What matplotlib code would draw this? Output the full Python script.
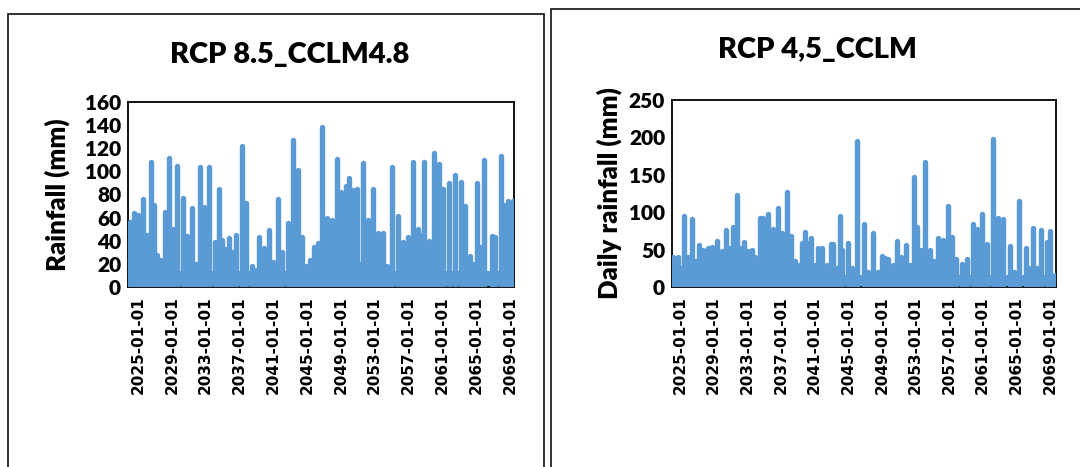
import matplotlib
matplotlib.use("Agg")
import matplotlib.pyplot as plt
from matplotlib.patches import Rectangle

# ---------------- data ----------------
left_title = "RCP 8.5_CCLM4.8"
right_title = "RCP 4,5_CCLM"
left_ylabel = "Rainfall (mm)"
right_ylabel = "Daily rainfall (mm)"

# Left panel: rainfall events (decimal year, mm)
left_years = [2024.05, 2024.53, 2025.00, 2025.59, 2026.10, 2026.54, 2026.89, 2027.25,
              2027.72, 2028.20, 2028.67, 2029.15, 2029.62, 2030.33, 2030.80, 2031.39,
              2031.85, 2032.34, 2032.81, 2033.40, 2034.11, 2034.59, 2034.94, 2035.30,
              2035.77, 2036.20, 2036.60, 2037.31, 2037.78, 2038.49, 2038.85, 2039.32,
              2039.91, 2040.50, 2041.00, 2041.57, 2042.10, 2042.75, 2043.34, 2043.93,
              2044.41, 2044.90, 2045.35, 2045.83, 2046.30, 2046.78, 2047.37, 2047.96,
              2048.55, 2049.02, 2049.62, 2049.97, 2050.44, 2050.92, 2051.30, 2051.63,
              2052.22, 2052.81, 2053.40, 2053.99, 2054.50, 2055.06, 2055.77, 2056.36,
              2056.95, 2057.54, 2058.14, 2058.50, 2058.85, 2059.40, 2060.03, 2060.62,
              2061.09, 2061.80, 2062.51, 2063.22, 2063.70, 2064.29, 2064.70, 2065.12,
              2065.50, 2065.95, 2066.89, 2067.25, 2067.96, 2068.43, 2068.79, 2069.38]
left_rain = [56, 64, 62, 76, 45, 108, 71, 28,
             23, 65, 112, 50, 105, 77, 44, 68,
             20, 104, 69, 104, 39, 85, 41, 33,
             42, 30, 45, 122, 73, 18, 15, 43,
             34, 49, 22, 76, 30, 55, 127, 101,
             43, 18, 23, 35, 38, 138, 60, 58,
             111, 82, 87, 94, 84, 85, 20, 107,
             58, 85, 47, 47, 18, 104, 61, 39,
             43, 108, 50, 45, 108, 40, 116, 106,
             85, 90, 97, 91, 70, 27, 20, 90,
             35, 110, 44, 43, 113, 71, 74, 74]
left_base = 14  # typical low daily rainfall level (mm)

# Right panel: rainfall events (decimal year, mm)
right_years = [2024.17, 2024.76, 2025.10, 2025.48, 2025.95, 2026.43, 2026.85, 2027.26,
               2027.73, 2028.33, 2028.80, 2029.40, 2029.99, 2030.47, 2030.83, 2031.30,
               2031.78, 2032.13, 2032.61, 2033.09, 2033.56, 2033.92, 2034.51, 2034.87,
               2035.46, 2036.06, 2036.65, 2037.13, 2037.72, 2038.20, 2038.67, 2039.03,
               2039.51, 2039.86, 2040.22, 2040.58, 2040.93, 2041.41, 2041.88, 2042.48,
               2042.95, 2043.19, 2043.67, 2044.02, 2044.26, 2044.98, 2045.50, 2046.05,
               2046.88, 2047.40, 2047.95, 2048.50, 2049.02, 2049.38, 2049.73, 2050.30,
               2050.80, 2051.30, 2051.87, 2052.40, 2052.82, 2053.18, 2053.66, 2054.13,
               2054.73, 2055.20, 2055.68, 2056.27, 2056.87, 2057.34, 2057.82, 2058.53,
               2059.13, 2059.84, 2060.32, 2060.91, 2061.50, 2062.22, 2062.81, 2063.41,
               2064.24, 2064.70, 2065.31, 2066.14, 2066.60, 2066.97, 2067.45, 2067.93,
               2068.64, 2069.00, 2069.59]
right_rain = [40, 40, 25, 95, 40, 91, 35, 56,
              50, 52, 53, 62, 48, 76, 52, 80,
              123, 52, 60, 48, 50, 40, 92, 92,
              97, 78, 106, 72, 127, 68, 35, 30,
              59, 73, 59, 66, 30, 52, 52, 30,
              57, 57, 25, 95, 50, 59, 25, 195,
              84, 20, 72, 20, 41, 39, 38, 30,
              62, 40, 56, 30, 147, 80, 49, 167,
              49, 35, 66, 63, 108, 67, 37, 31,
              38, 84, 78, 98, 57, 198, 92, 91,
              55, 20, 115, 52, 25, 79, 25, 76,
              60, 75, 16]
right_base = 16

tick_years = [2025, 2029, 2033, 2037, 2041, 2045, 2049, 2053, 2057, 2061, 2065, 2069]
tick_labels = ["2025-01-01", "2029-01-01", "2033-01-01", "2037-01-01", "2041-01-01",
               "2045-01-01", "2049-01-01", "2053-01-01", "2057-01-01", "2061-01-01",
               "2065-01-01", "2069-01-01"]

# ---------------- styling ----------------
BLUE = "#5B9BD5"
W, H = 1080, 467
fig = plt.figure(figsize=(W / 100, H / 100), dpi=100)

# outer panel frames
fig.patches.append(Rectangle((8 / W, -0.1), 536 / W, 1 - 14 / H + 0.1,
                             transform=fig.transFigure, fill=False,
                             edgecolor="#222222", linewidth=1.3))
fig.patches.append(Rectangle((551 / W, -0.1), 0.6, 1 - 9 / H + 0.1,
                             transform=fig.transFigure, fill=False,
                             edgecolor="#222222", linewidth=1.3))

def make_panel(rect, years, rain, base, xlim, ymax, ystep, ylabel, labelpad,
               title, title_xy):
    ax = fig.add_axes(rect)
    ax.fill_between([xlim[0], xlim[1]], 0, base, color=BLUE, linewidth=0, zorder=2)
    lc = ax.vlines(years, 0, rain, colors=BLUE, linewidth=3.9, zorder=3)
    lc.set_capstyle("round")
    ax.set_xlim(*xlim)
    ax.set_ylim(0, ymax)
    ax.set_yticks(range(0, ymax + 1, ystep))
    ax.set_yticklabels([str(v) for v in range(0, ymax + 1, ystep)],
                       family="Lato", fontweight="heavy", fontsize=15)
    ax.set_xticks(tick_years)
    ax.set_xticklabels(tick_labels, rotation=90, family="DejaVu Sans",
                       fontweight="bold", fontsize=11)
    ax.tick_params(axis="both", length=0)
    ax.tick_params(axis="y", pad=5)
    ax.tick_params(axis="x", pad=7)
    for s in ax.spines.values():
        s.set_color("black")
        s.set_linewidth(1.3)
    ax.set_ylabel(ylabel, family="Lato", fontweight="heavy", fontsize=18.5,
                  labelpad=labelpad)
    fig.text(title_xy[0], title_xy[1], title, family="Lato", fontweight="heavy",
             fontsize=21, ha="center", va="center")
    return ax

make_panel([128 / W, 1 - 287 / H, 386 / W, 185 / H], left_years, left_rain, left_base,
           (2023.82, 2069.50), 160, 20, left_ylabel, 11, left_title, (290 / W, 1 - 55 / H))
make_panel([672 / W, 1 - 287 / H, 384 / W, 187 / H], right_years, right_rain, right_base,
           (2024.05, 2069.71), 250, 50, right_ylabel, 5, right_title, (817 / W, 1 - 50 / H))

fig.savefig("out.png", dpi=100)
